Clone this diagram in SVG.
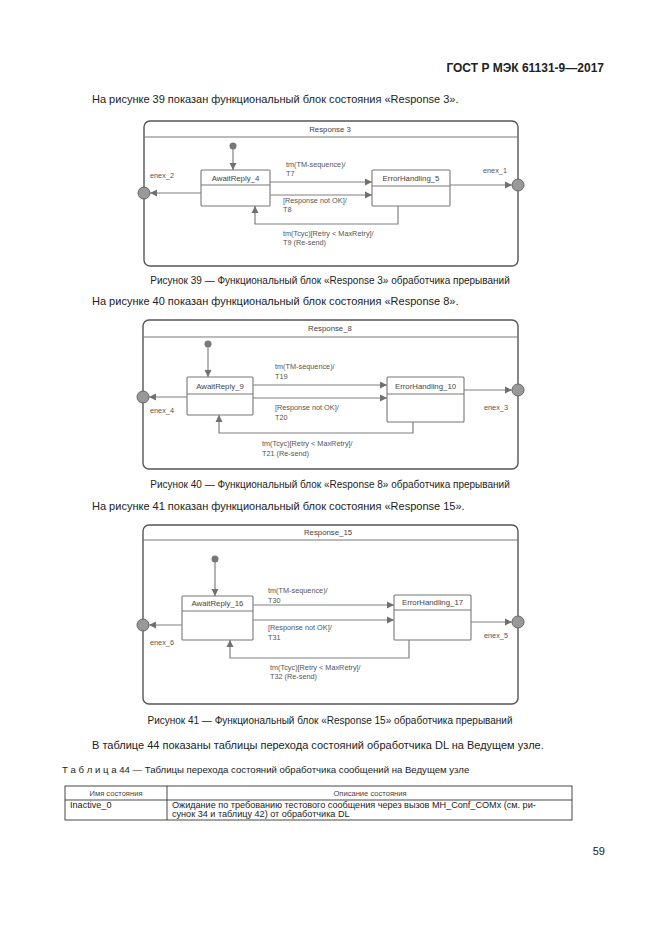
<svg xmlns="http://www.w3.org/2000/svg" width="661" height="935" viewBox="0 0 661 935">
<defs>
<marker id="ah" markerWidth="8" markerHeight="8" refX="7" refY="4" orient="auto" markerUnits="userSpaceOnUse">
<path d="M0,0.5 L7,4 L0,7.5 Z" fill="#707070"/>
</marker>
</defs>
<style>
text{font-family:"Liberation Sans",Arial,sans-serif;}
.body{font-size:11px;fill:#222;}
.cap{font-size:10px;fill:#222;}
.hdr{font-size:12px;font-weight:bold;fill:#222;}
.d{font-size:7.3px;fill:#555;}
.dn{font-size:7.8px;fill:#444;}
.frame{fill:none;stroke:#555;stroke-width:1.4;}
.box{fill:#fff;stroke:#777;stroke-width:1.1;}
.sep{stroke:#777;stroke-width:1;}
.ln{fill:none;stroke:#808080;stroke-width:1.2;}
.enex{fill:#999;stroke:#666;stroke-width:1;}
.init{fill:#777;}
.tb{fill:none;stroke:#333;stroke-width:0.9;}
.tt{font-size:9.1px;fill:#222;}
.ttl{font-size:9.6px;fill:#222;}
.th{font-size:7.6px;fill:#444;}
</style>
<rect width="661" height="935" fill="#fff"/>
<text class="hdr" x="604" y="72" text-anchor="end">ГОСТ Р МЭК 61131-9—2017</text>
<text class="body" x="92" y="103">На рисунке 39 показан функциональный блок состояния «Response 3».</text>

<!-- Diagram 1 -->
<g id="response3">
<rect class="frame" x="144" y="121" width="374" height="145" rx="6"/>
<line class="sep" x1="144" y1="137" x2="518" y2="137" stroke="#555"/>
<text class="dn" x="330" y="132" text-anchor="middle">Response 3</text>
</g>
<g id="init1"><circle class="init" cx="233" cy="146" r="3.5"/></g>
<g id="awaitreply4">
<rect class="box" x="201" y="170" width="69" height="36" rx="1"/>
<line class="sep" x1="201" y1="185" x2="270" y2="185"/>
<text class="dn" x="235.5" y="181" text-anchor="middle">AwaitReply_4</text>
</g>
<g id="errorhandling5">
<rect class="box" x="372" y="170" width="78" height="36" rx="1"/>
<line class="sep" x1="372" y1="186" x2="450" y2="186"/>
<text class="dn" x="411" y="181" text-anchor="middle">ErrorHandling_5</text>
</g>
<g id="enex2"><circle class="enex" cx="144" cy="193" r="6"/><text class="d" x="150" y="178">enex_2</text></g>
<g id="enex1"><circle class="enex" cx="518" cy="185" r="6"/><text class="d" x="483" y="173">enex_1</text></g>

<!-- Diagram 2 -->
<g id="response8">
<rect class="frame" x="143" y="320" width="375" height="149" rx="6"/>
<line class="sep" x1="143" y1="337" x2="518" y2="337" stroke="#555"/>
<text class="dn" x="330" y="331" text-anchor="middle">Response_8</text>
</g>
<g id="init2"><circle class="init" cx="208" cy="344" r="3.5"/></g>
<g id="awaitreply9">
<rect class="box" x="187" y="377" width="66" height="38" rx="1"/>
<line class="sep" x1="187" y1="394" x2="253" y2="394"/>
<text class="dn" x="220" y="389" text-anchor="middle">AwaitReply_9</text>
</g>
<g id="errorhandling10">
<rect class="box" x="387" y="377" width="77" height="45" rx="1"/>
<line class="sep" x1="387" y1="394" x2="464" y2="394"/>
<text class="dn" x="425.5" y="389" text-anchor="middle">ErrorHandling_10</text>
</g>
<g id="enex4"><circle class="enex" cx="143" cy="397" r="6"/><text class="d" x="150" y="413">enex_4</text></g>
<g id="enex3"><circle class="enex" cx="518" cy="390" r="6"/><text class="d" x="484" y="410">enex_3</text></g>

<!-- Diagram 3 -->
<g id="response15">
<rect class="frame" x="143" y="525" width="375" height="179" rx="6"/>
<line class="sep" x1="143" y1="540" x2="518" y2="540" stroke="#555"/>
<text class="dn" x="328" y="535" text-anchor="middle">Response_15</text>
</g>
<g id="init3"><circle class="init" cx="215" cy="559" r="3.5"/></g>
<g id="awaitreply16">
<rect class="box" x="182" y="596" width="71" height="44" rx="1"/>
<line class="sep" x1="182" y1="611" x2="253" y2="611"/>
<text class="dn" x="217.5" y="606" text-anchor="middle">AwaitReply_16</text>
</g>
<g id="errorhandling17">
<rect class="box" x="394" y="595" width="77" height="45" rx="1"/>
<line class="sep" x1="394" y1="610" x2="471" y2="610"/>
<text class="dn" x="432.5" y="605" text-anchor="middle">ErrorHandling_17</text>
</g>
<g id="enex6"><circle class="enex" cx="143" cy="625" r="6"/><text class="d" x="150" y="645">enex_6</text></g>
<g id="enex5"><circle class="enex" cx="518" cy="622" r="6"/><text class="d" x="484" y="638">enex_5</text></g>

<g id="connectors">
<!-- D1 -->
<line class="ln" x1="233" y1="149" x2="233" y2="170" marker-end="url(#ah)"/>
<line class="ln" x1="270" y1="182" x2="372" y2="182" marker-end="url(#ah)"/>
<line class="ln" x1="270" y1="195" x2="372" y2="195" marker-end="url(#ah)"/>
<polyline class="ln" points="398,206 398,224 255,224 255,206" marker-end="url(#ah)"/>
<line class="ln" x1="201" y1="193" x2="150" y2="193" marker-end="url(#ah)"/>
<line class="ln" x1="450" y1="185" x2="512" y2="185" marker-end="url(#ah)"/>
<text class="d" x="286" y="167">tm(TM-sequence)/</text>
<text class="d" x="286" y="176">T7</text>
<text class="d" x="283" y="203">[Response not OK]/</text>
<text class="d" x="283" y="212">T8</text>
<text class="d" x="283" y="236">tm(Tcyc)[Retry &lt; MaxRetry]/</text>
<text class="d" x="283" y="245">T9   (Re-send)</text>
<!-- D2 -->
<line class="ln" x1="208" y1="347" x2="208" y2="377" marker-end="url(#ah)"/>
<line class="ln" x1="253" y1="385" x2="387" y2="385" marker-end="url(#ah)"/>
<line class="ln" x1="253" y1="398" x2="387" y2="398" marker-end="url(#ah)"/>
<polyline class="ln" points="413,422 413,433 219,433 219,415" marker-end="url(#ah)"/>
<line class="ln" x1="187" y1="397" x2="149" y2="397" marker-end="url(#ah)"/>
<line class="ln" x1="464" y1="390" x2="512" y2="390" marker-end="url(#ah)"/>
<text class="d" x="275" y="369">tm(TM-sequence)/</text>
<text class="d" x="275" y="379">T19</text>
<text class="d" x="275" y="410">[Response not OK]/</text>
<text class="d" x="275" y="420">T20</text>
<text class="d" x="262" y="446">tm(Tcyc)[Retry &lt; MaxRetry]/</text>
<text class="d" x="262" y="456">T21  (Re-send)</text>
<!-- D3 -->
<line class="ln" x1="215" y1="562" x2="215" y2="596" marker-end="url(#ah)"/>
<line class="ln" x1="253" y1="605" x2="394" y2="605" marker-end="url(#ah)"/>
<line class="ln" x1="253" y1="620" x2="394" y2="620" marker-end="url(#ah)"/>
<polyline class="ln" points="409,640 409,658 230,658 230,640" marker-end="url(#ah)"/>
<line class="ln" x1="182" y1="625" x2="149" y2="625" marker-end="url(#ah)"/>
<line class="ln" x1="471" y1="622" x2="512" y2="622" marker-end="url(#ah)"/>
<text class="d" x="268" y="593">tm(TM-sequence)/</text>
<text class="d" x="268" y="603">T30</text>
<text class="d" x="268" y="630">[Response not OK]/</text>
<text class="d" x="268" y="640">T31</text>
<text class="d" x="270" y="670">tm(Tcyc)[Retry &lt; MaxRetry]/</text>
<text class="d" x="270" y="679">T32  (Re-send)</text>
</g>

<text class="cap" x="330" y="284" text-anchor="middle">Рисунок 39 — Функциональный блок «Response 3» обработчика прерываний</text>
<text class="body" x="92" y="305">На рисунке 40 показан функциональный блок состояния «Response 8».</text>
<text class="cap" x="330" y="488" text-anchor="middle">Рисунок 40 — Функциональный блок «Response 8» обработчика прерываний</text>
<text class="body" x="92" y="510">На рисунке 41 показан функциональный блок состояния «Response 15».</text>
<text class="cap" x="330" y="724" text-anchor="middle">Рисунок 41 — Функциональный блок «Response 15» обработчика прерываний</text>
<text class="body" x="92" y="749">В таблице 44 показаны таблицы перехода состояний обработчика DL на Ведущем узле.</text>
<text class="ttl" x="62" y="773">Т а б л и ц а  44 — Таблицы перехода состояний обработчика сообщений на Ведущем узле</text>

<g id="table44">
<rect class="tb" x="65" y="786" width="507" height="34"/>
<line class="tb" x1="65" y1="800" x2="572" y2="800"/>
<line class="tb" x1="167" y1="786" x2="167" y2="820"/>
<text class="th" x="116" y="796" text-anchor="middle">Имя состояния</text>
<text class="th" x="370" y="796" text-anchor="middle">Описание состояния</text>
<text class="tt" x="70" y="808">Inactive_0</text>
<text class="tt" x="172" y="808">Ожидание по требованию тестового сообщения через вызов MH_Conf_COMx (см. ри-</text>
<text class="tt" x="172" y="817">сунок 34 и таблицу 42) от обработчика DL</text>
</g>
<text class="body" x="605" y="855" text-anchor="end">59</text>
</svg>
